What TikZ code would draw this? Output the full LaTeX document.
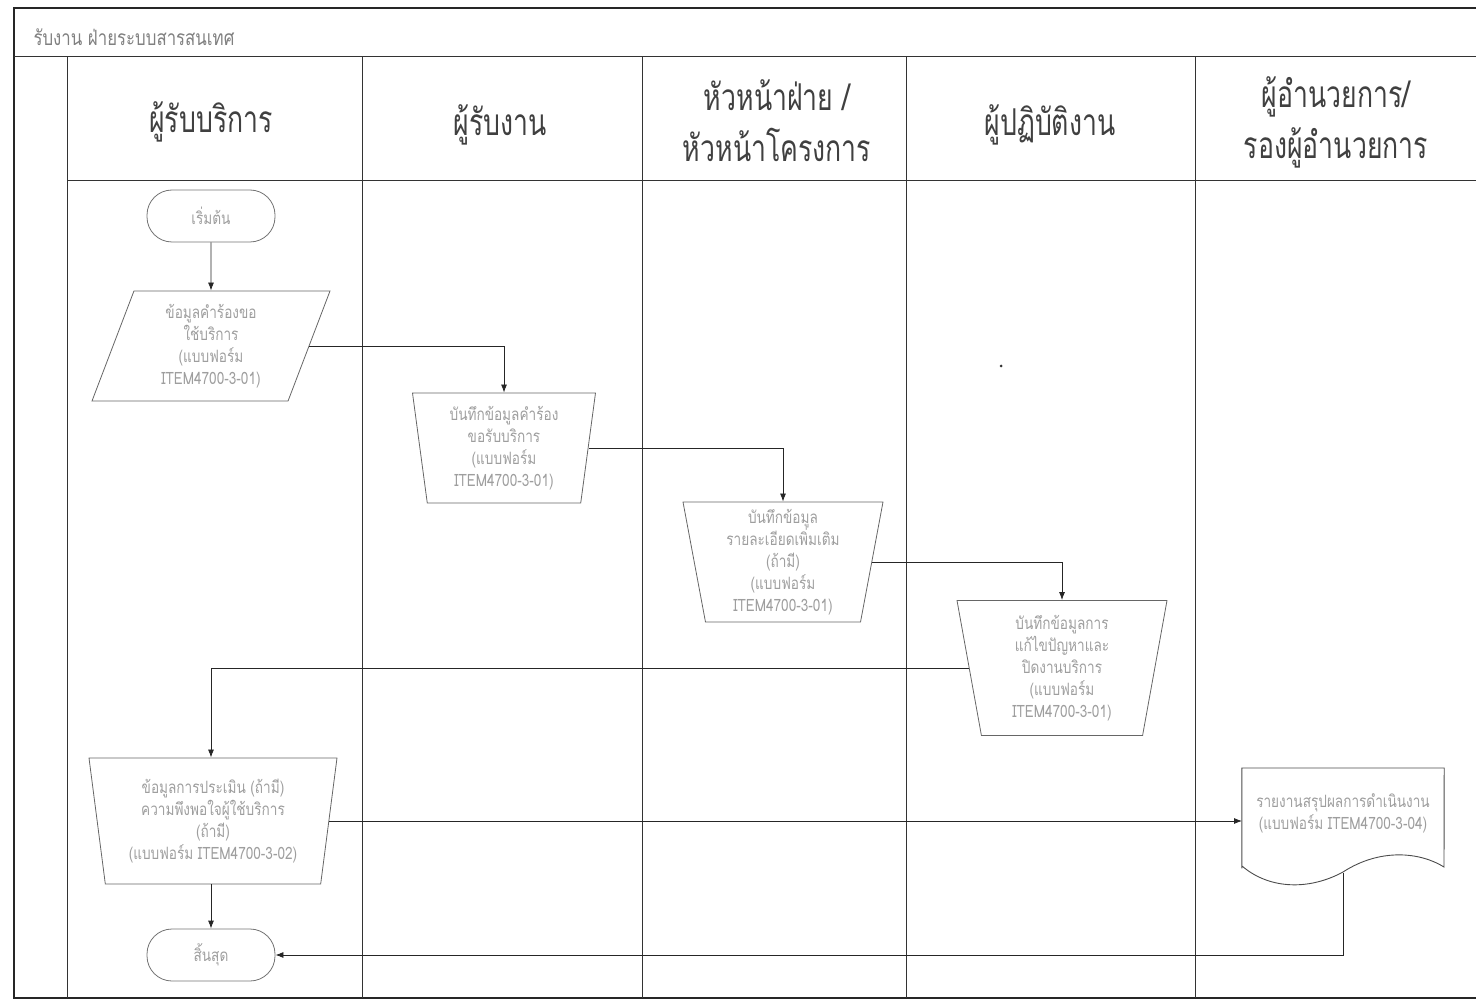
\documentclass[tikz,border=0pt]{standalone}
\usepackage{fontspec}
\newfontfamily\thaihead[Script=Thai,FakeStretch=0.72]{Loma}
\newfontfamily\thaibox[Script=Thai,FakeStretch=0.8]{Loma}
\usetikzlibrary{shapes.geometric,arrows.meta}
\begin{document}
\begin{tikzpicture}[x=1pt,y=-1pt,
  frame/.style={line width=1.3pt,black!85},
  lane/.style={line width=1pt,black!80},
  head/.style={font=\thaihead\fontsize{37}{51}\selectfont,text=black!75,align=center},
  boxtext/.style={font=\thaibox\fontsize{17}{22}\selectfont,text=black!38,align=center},
  term/.style={draw=black!55,line width=0.8pt,rounded corners=25pt,minimum width=128pt,minimum height=52pt,inner sep=0pt},
  trap/.style={trapezium,shape border rotate=180,trapezium stretches body,draw=black!60,line width=0.8pt,inner sep=0pt},
  para/.style={trapezium,trapezium left angle=63.4,trapezium right angle=116.6,trapezium stretches body,draw=black!60,line width=0.8pt,inner sep=0pt,minimum width=238pt,minimum height=110pt},
  conn/.style={line width=0.8pt,black!85},
  arr/.style={conn,-{Latex[length=8pt,width=6pt]}}
]
\useasboundingbox (0,0) rectangle (1476,1000);
% frame
\draw[frame] (1476,8) -- (14,8) -- (14,998) -- (1476,998);
\draw[lane] (14,57) -- (1476,57);
\draw[lane] (67,181) -- (1476,181);
\foreach \x in {67,362,642,906,1195} \draw[lane] (\x,57) -- (\x,998);
\node[font=\thaibox\fontsize{21}{24}\selectfont,text=black!50,anchor=west] (title) at (30,37) {รับงาน ฝ่ายระบบสารสนเทศ};
% headers
\node[head] (h1) at (211,122) {ผู้รับบริการ};
\node[head] (h2) at (500,125) {ผู้รับงาน};
\node[head] (h3) at (777,121) {หัวหน้าฝ่าย /\\หัวหน้าโครงการ};
\node[head] (h4) at (1050,125) {ผู้ปฏิบัติงาน};
\node[head] (h5) at (1336,122) {ผู้อำนวยการ/\\รองผู้อำนวยการ};
% shapes
\node[term,boxtext] (start) at (211,216) {เริ่มต้น};
\node[para,boxtext] (in) at (211,346) {ข้อมูลคำร้องขอ\\ใช้บริการ\\(แบบฟอร์ม\\ITEM4700-3-01)};
\node[trap,boxtext,trapezium left angle=80,trapezium right angle=80,minimum width=183pt,minimum height=110pt] (rec) at (504,448) {บันทึกข้อมูลคำร้อง\\ขอรับบริการ\\(แบบฟอร์ม\\ITEM4700-3-01)};
\node[trap,boxtext,trapezium left angle=78,trapezium right angle=78,minimum width=200pt,minimum height=120pt] (det) at (783,562) {บันทึกข้อมูล\\รายละเอียดเพิ่มเติม\\(ถ้ามี)\\(แบบฟอร์ม\\ITEM4700-3-01)};
\node[trap,boxtext,trapezium left angle=77,trapezium right angle=77,minimum width=210pt,minimum height=135pt] (fix) at (1062,668) {บันทึกข้อมูลการ\\แก้ไขปัญหาและ\\ปิดงานบริการ\\(แบบฟอร์ม\\ITEM4700-3-01)};
\node[trap,boxtext,trapezium left angle=79,trapezium right angle=79,minimum width=248pt,minimum height=126pt] (eval) at (213,821) {ข้อมูลการประเมิน (ถ้ามี)\\ความพึงพอใจผู้ใช้บริการ\\(ถ้ามี)\\(แบบฟอร์ม ITEM4700-3-02)};
\node[term,boxtext] (end) at (211,955) {สิ้นสุด};
% document shape
\node[boxtext,minimum width=202pt,minimum height=100pt,inner sep=0pt,anchor=north] (doc) at (1343,768) {};
\node[boxtext] (doctext) at (1343,813) {รายงานสรุปผลการดำเนินงาน\\(แบบฟอร์ม ITEM4700-3-04)};
\draw[black!70,line width=0.9pt] (doc.south west) -- (doc.north west) -- (doc.north east) -- (1444,867)
  .. controls (1420,852) and (1380,848) .. (1343,872)
  .. controls (1310,890) and (1270,890) .. (1242,866);
\coordinate (docbot) at (1343,873);
\coordinate (docin) at (1242,826);
% connectors
\draw[arr] (start.south) -- (in.north);
\draw[arr] (in.east) -| (rec.north);
\draw[arr] (rec.east) -| (det.north);
\draw[arr] (det.east) -| (fix.north);
\draw[arr] (fix.west) -| (end.north |- eval.north);
\draw[arr] (eval.east) -- (eval.east -| docin);
\draw[arr] (end.north |- eval.south) -- (end.north);
\draw[arr] (docbot) |- (end.east);
\fill[black!80] (1001,366) circle (1.5pt);
\end{tikzpicture}
\end{document}
